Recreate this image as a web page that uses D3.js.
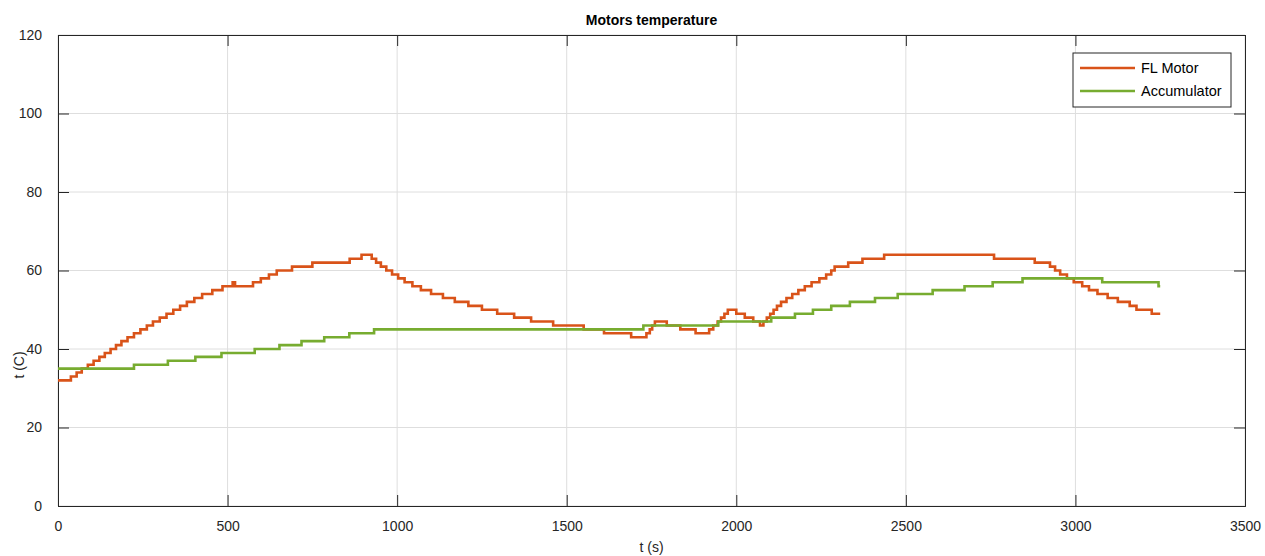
<!DOCTYPE html>
<html>
<head>
<meta charset="utf-8">
<script src="https://cdn.jsdelivr.net/npm/d3@7"></script>
<style>
  body { margin: 0; background: #fff; }
  svg { font-family: "Liberation Sans", Arial, sans-serif; }
</style>
</head>
<body>
<svg id="chart"></svg>
<script>
// Motors temperature: step data (time of change, new value)

var motorT = [0, 38, 55, 70, 88, 105, 122, 138, 155, 171, 187, 205, 224, 243, 262, 280, 300, 320, 340, 360, 380, 402, 425, 455, 485, 515, 522, 575, 598, 622, 645, 690, 750, 860, 895, 925, 938, 952, 968, 985, 1003, 1022, 1045, 1070, 1100, 1135, 1170, 1210, 1250, 1295, 1345, 1395, 1460, 1550, 1610, 1690, 1735, 1745, 1752, 1760, 1795, 1835, 1880, 1920, 1932, 1945, 1955, 1965, 1975, 2000, 2025, 2050, 2070, 2080, 2090, 2100, 2110, 2120, 2132, 2148, 2165, 2183, 2202, 2222, 2245, 2265, 2280, 2290, 2330, 2372, 2436, 2760, 2880, 2925, 2940, 2955, 2975, 2995, 3020, 3040, 3065, 3095, 3125, 3160, 3180, 3225, 3250];
var motorV = [32, 33, 34, 35, 36, 37, 38, 39, 40, 41, 42, 43, 44, 45, 46, 47, 48, 49, 50, 51, 52, 53, 54, 55, 56, 57, 56, 57, 58, 59, 60, 61, 62, 63, 64, 63, 62, 61, 60, 59, 58, 57, 56, 55, 54, 53, 52, 51, 50, 49, 48, 47, 46, 45, 44, 43, 44, 45, 46, 47, 46, 45, 44, 45, 46, 47, 48, 49, 50, 49, 48, 47, 46, 47, 48, 49, 50, 51, 52, 53, 54, 55, 56, 57, 58, 59, 60, 61, 62, 63, 64, 63, 62, 61, 60, 59, 58, 57, 56, 55, 54, 53, 52, 51, 50, 49, 49];

var accT = [0, 224, 324, 405, 482, 580, 653, 718, 785, 859, 932, 1726, 1947, 2103, 2173, 2226, 2280, 2335, 2409, 2476, 2579, 2673, 2756, 2844, 3079, 3245, 3250];
var accV = [35, 36, 37, 38, 39, 40, 41, 42, 43, 44, 45, 46, 47, 48, 49, 50, 51, 52, 53, 54, 55, 56, 57, 58, 57, 56, 56];

var xTicks = [0, 500, 1000, 1500, 2000, 2500, 3000, 3500];
var yTicks = [0, 20, 40, 60, 80, 100, 120];

var seriesNames = ["FL Motor", "Accumulator"];
var colors = ["#D95319", "#77AC30"];

var width = 1265, height = 556;
var margin = { left: 58, right: 20, top: 35, bottom: 50 };

var svg = d3.select("#chart").attr("width", width).attr("height", height);

var x = d3.scaleLinear().domain([0, 3500]).range([margin.left, width - margin.right]);
var y = d3.scaleLinear().domain([0, 120]).range([height - margin.bottom, margin.top]);

// grid
svg.append("g").selectAll("line.gx").data(xTicks).enter().append("line")
    .attr("x1", function(d) { return x(d); }).attr("x2", function(d) { return x(d); })
    .attr("y1", y(0)).attr("y2", y(120))
    .attr("stroke", "#dedede").attr("stroke-width", 1);
svg.append("g").selectAll("line.gy").data(yTicks).enter().append("line")
    .attr("x1", x(0)).attr("x2", x(3500))
    .attr("y1", function(d) { return y(d); }).attr("y2", function(d) { return y(d); })
    .attr("stroke", "#dedede").attr("stroke-width", 1);

// axes (ticks inward)
var tk = -11;
var xAxis = svg.append("g").attr("transform", "translate(0," + y(0) + ")")
    .call(d3.axisBottom(x).tickValues(xTicks).tickSize(tk).tickPadding(20).tickFormat(d3.format("d")));
var yAxis = svg.append("g").attr("transform", "translate(" + x(0) + ",0)")
    .call(d3.axisLeft(y).tickValues(yTicks).tickSize(tk).tickPadding(16));
var xTop = svg.append("g").attr("transform", "translate(0," + y(120) + ")")
    .call(d3.axisTop(x).tickValues(xTicks).tickSize(tk).tickFormat(""));
var yRight = svg.append("g").attr("transform", "translate(" + x(3500) + ",0)")
    .call(d3.axisRight(y).tickValues(yTicks).tickSize(tk).tickFormat(""));

[xAxis, yAxis, xTop, yRight].forEach(function(a) {
    a.selectAll("path, line").attr("stroke", "#262626").attr("stroke-width", 1);
    a.selectAll("text").attr("fill", "#262626").style("font-size", "14px")
        .style("font-family", "'Liberation Sans', Arial, sans-serif");
});
xAxis.selectAll("text").attr("dy", "0.35em");

// lines
var line = d3.line()
    .x(function(d) { return x(d[0]); })
    .y(function(d) { return y(d[1]); })
    .curve(d3.curveStepAfter);

var motorData = motorT.map(function(t, i) { return [t, motorV[i]]; });
var accData = accT.map(function(t, i) { return [t, accV[i]]; });

svg.append("path").datum(motorData).attr("d", line)
    .attr("fill", "none").attr("stroke", colors[0]).attr("stroke-width", 2.6);
svg.append("path").datum(accData).attr("d", line)
    .attr("fill", "none").attr("stroke", colors[1]).attr("stroke-width", 2.6);

// title and labels
svg.append("text").attr("x", (x(0) + x(3500)) / 2).attr("y", 25)
    .attr("text-anchor", "middle").style("font-weight", "bold").style("font-size", "14px")
    .attr("fill", "#000").text("Motors temperature");
svg.append("text").attr("x", (x(0) + x(3500)) / 2).attr("y", 552)
    .attr("text-anchor", "middle").style("font-size", "14px").attr("fill", "#262626").text("t (s)");
svg.append("text").attr("transform", "translate(24,365) rotate(-90)")
    .attr("text-anchor", "middle").style("font-size", "14px").attr("fill", "#262626").text("t (C)");

// legend
var lg = svg.append("g").attr("transform", "translate(1073,53)");
lg.append("rect").attr("width", 158).attr("height", 54)
    .attr("fill", "#fff").attr("stroke", "#262626").attr("stroke-width", 1);
seriesNames.forEach(function(name, i) {
    var yy = 15 + i * 23;
    lg.append("line").attr("x1", 7).attr("x2", 62).attr("y1", yy).attr("y2", yy)
        .attr("stroke", colors[i]).attr("stroke-width", 2.6);
    lg.append("text").attr("x", 68).attr("y", yy).attr("dy", "0.35em")
        .style("font-size", "14.5px").attr("fill", "#000").text(name);
});
</script>
</body>
</html>
